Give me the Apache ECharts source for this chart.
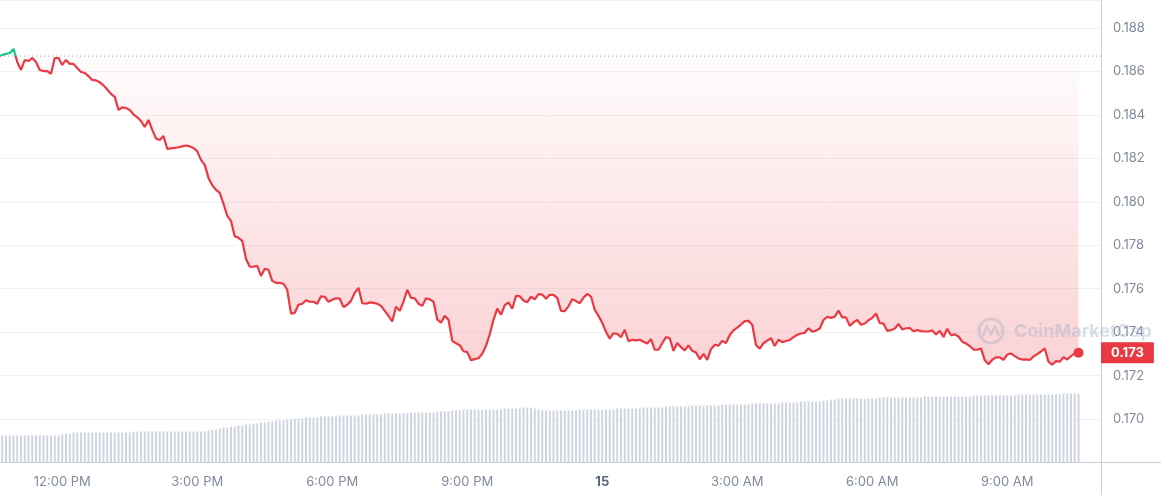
<!DOCTYPE html>
<html><head><meta charset="utf-8">
<style>html,body{margin:0;padding:0;background:#fff;}#chart{width:1161px;height:495px;}</style>
<script src="https://cdn.jsdelivr.net/npm/echarts@6/dist/echarts.min.js"></script>
</head><body><div id="chart"></div>
<script>
// time of first sample in minutes from midnight (10:35 AM), one sample every 5 minutes
const startMinute = 635;
const stepMinutes = 5;

const prices = [
0.18671,0.18676,0.18681,0.18685,0.18704,0.18644,0.18607,0.18653,0.18648,0.18662,
0.18644,0.18607,0.18602,0.18602,0.18589,0.18662,0.18662,0.18630,0.18653,0.18635,
0.18635,0.18616,0.18598,0.18593,0.18579,0.18561,0.18559,0.18550,0.18536,0.18517,
0.18497,0.18483,0.18423,0.18435,0.18432,0.18423,0.18402,0.18389,0.18372,0.18345,
0.18377,0.18331,0.18292,0.18285,0.18303,0.18244,0.18246,0.18248,0.18251,0.18255,
0.18259,0.18255,0.18248,0.18232,0.18193,0.18170,0.18110,0.18076,0.18055,0.18041,
0.17991,0.17935,0.17912,0.17841,0.17834,0.17820,0.17738,0.17701,0.17702,0.17705,
0.17659,0.17692,0.17687,0.17636,0.17627,0.17627,0.17623,0.17595,0.17485,0.17489,
0.17526,0.17531,0.17547,0.17540,0.17540,0.17531,0.17565,0.17563,0.17540,0.17549,
0.17556,0.17554,0.17515,0.17526,0.17544,0.17581,0.17604,0.17533,0.17531,0.17537,
0.17535,0.17531,0.17521,0.17498,0.17475,0.17449,0.17517,0.17498,0.17540,0.17595,
0.17558,0.17556,0.17531,0.17521,0.17556,0.17551,0.17540,0.17459,0.17443,0.17475,
0.17457,0.17360,0.17349,0.17340,0.17312,0.17308,0.17271,0.17276,0.17280,0.17301,
0.17337,0.17390,0.17457,0.17508,0.17480,0.17524,0.17537,0.17508,0.17567,0.17566,
0.17546,0.17538,0.17563,0.17551,0.17575,0.17573,0.17554,0.17572,0.17572,0.17558,
0.17498,0.17497,0.17519,0.17552,0.17543,0.17533,0.17559,0.17576,0.17564,0.17503,
0.17475,0.17443,0.17402,0.17370,0.17395,0.17392,0.17377,0.17411,0.17358,0.17365,
0.17362,0.17365,0.17356,0.17348,0.17368,0.17319,0.17319,0.17349,0.17377,0.17372,
0.17314,0.17350,0.17331,0.17316,0.17339,0.17314,0.17306,0.17275,0.17300,0.17272,
0.17322,0.17342,0.17338,0.17360,0.17350,0.17387,0.17408,0.17421,0.17435,0.17451,
0.17452,0.17434,0.17341,0.17324,0.17349,0.17361,0.17372,0.17336,0.17365,0.17354,
0.17359,0.17364,0.17377,0.17388,0.17394,0.17397,0.17418,0.17402,0.17407,0.17417,
0.17456,0.17471,0.17466,0.17471,0.17499,0.17468,0.17468,0.17429,0.17445,0.17456,
0.17434,0.17440,0.17455,0.17466,0.17486,0.17442,0.17439,0.17406,0.17409,0.17417,
0.17438,0.17413,0.17418,0.17419,0.17404,0.17410,0.17405,0.17403,0.17403,0.17408,
0.17389,0.17406,0.17378,0.17416,0.17386,0.17390,0.17380,0.17356,0.17348,0.17336,
0.17320,0.17319,0.17325,0.17271,0.17252,0.17273,0.17284,0.17284,0.17273,0.17297,
0.17302,0.17290,0.17279,0.17274,0.17275,0.17272,0.17288,0.17299,0.17311,0.17325,
0.17264,0.17250,0.17267,0.17264,0.17285,0.17274,0.17290,0.17302,0.17305
];

// volume (millions, relative scale)
const volumes = [
27,27,27,27,27,27,27,27,27,27,27,27,27,27,27,27,27,
28,29,29,30,
30,30,30,30,30,30,30,30,30,30,30,30,30,30,30,
31,31,31,31,31,31,31,31,31,31,31,31,31,31,31,31,31,31,31,31,
32,33,33,34,35,35,36,
36,37,37,38,38,39,39,40,40,41,41,42,42,42,
43,43,44,44,44,45,45,45,45,46,46,46,46,46,
47,47,47,47,47,47,48,48,48,48,48,48,49,49,49,49,49,49,
49,50,50,50,50,50,50,50,51,51,51,51,
52,52,52,53,53,53,53,53,53,53,53,53,53,53,54,54,54,54,54,
55,55,55,54,53,
52,52,52,52,52,52,52,52,52,52,53,53,53,53,53,53,
53,53,53,53,54,54,54,54,54,54,54,55,
55,55,55,55,55,56,56,56,56,56,56,57,57,57,
57,57,57,57,57,57,58,58,58,58,58,58,58,58,59,59,59,59,
59,59,59,59,60,60,60,60,60,61,61,61,61,61,61,62,
62,63,63,64,64,64,64,64,64,64,64,64,64,64,65,
65,65,65,65,65,65,65,65,65,65,65,66,66,66,66,
66,66,66,66,66,66,66,66,66,67,67,67,67,67,67,67,67,67,67,67,
67,68,68,68,68,68,68,68,68,68,68,68,68,69,69,69,69,69
];

const tickValues = [720, 900, 1080, 1260, 1440, 1620, 1800, 1980];
const tickLabels = ['12:00 PM', '3:00 PM', '6:00 PM', '9:00 PM', '15', '3:00 AM', '6:00 AM', '9:00 AM'];

const times = prices.map((_, i) => startMinute + i * stepMinutes);
const base = prices[0];
const lastIdx = prices.length - 1;
const last = prices[lastIdx];

const X_MIN = 637, X_MAX = 2105, Y_MIN = 0.168, Y_MAX = 0.18929;
const RED = '#ea3943', GREEN = '#16c784', AXIS = '#c9cdd5', LABEL = '#808a9d';

const chart = echarts.init(document.getElementById('chart'), null, {renderer: 'canvas'});
chart.setOption({
  animation: false,
  backgroundColor: '#ffffff',
  grid: {left: 0, right: 60, top: 0, bottom: 32.5, containLabel: false},
  xAxis: {
    type: 'value', min: X_MIN, max: X_MAX,
    axisLine: {show: true, lineStyle: {color: AXIS}},
    axisTick: {show: false},
    splitLine: {show: false},
    axisLabel: {
      customValues: tickValues,
      margin: 13, color: LABEL, fontSize: 13, fontFamily: 'Inter',
      formatter: v => { const lab = tickLabels[tickValues.indexOf(v)]; return v % 1440 === 0 ? '{b|' + lab + '}' : lab; },
      rich: {b: {fontWeight: 'bold', color: '#58667e', fontSize: 13, fontFamily: 'Inter'}}
    }
  },
  yAxis: [{
    type: 'value', position: 'right', min: Y_MIN, max: Y_MAX, interval: 0.002,
    axisLine: {show: true, lineStyle: {color: AXIS}},
    axisTick: {show: false},
    splitLine: {show: true, lineStyle: {color: '#eff2f5'}},
    axisLabel: {margin: 12, color: LABEL, fontSize: 13, fontFamily: 'Inter', showMinLabel: false, showMaxLabel: false,
      formatter: v => v.toFixed(3)}
  }, {
    type: 'value', min: 0, max: 462.5, show: false
  }, {
    // current-price tag on the price scale
    type: 'value', position: 'right', min: Y_MIN, max: Y_MAX,
    axisLine: {show: false}, axisTick: {show: false}, splitLine: {show: false},
    axisLabel: {
      customValues: [last], margin: 0, inside: false,
      formatter: v => v.toFixed(3),
      backgroundColor: RED, color: '#fff', fontWeight: 'bold', fontSize: 13, fontFamily: 'Inter',
      padding: [4, 10, 4, 10], borderRadius: 1
    }
  }],
  visualMap: {
    type: 'piecewise', show: false, seriesIndex: 0, dimension: 1,
    pieces: [{gt: base, lte: 1, color: GREEN}, {gte: 0, lte: base, color: RED}]
  },
  series: [{
    type: 'line', z: 3,
    data: times.map((t, i) => [t, prices[i]]),
    showSymbol: false,
    lineStyle: {width: 2.2},
    areaStyle: {
      origin: base,
      color: new echarts.graphic.LinearGradient(0, 0, 0, 1, [
        {offset: 0, color: 'rgba(234,57,67,0.01)'},
        {offset: 1, color: 'rgba(234,57,67,0.32)'}
      ])
    },
    markPoint: {
      silent: true, animation: false,
      symbol: 'circle', symbolSize: 10,
      itemStyle: {color: RED},
      label: {show: false},
      data: [{coord: [times[lastIdx], last]}]
    }
  }, {
    type: 'bar', yAxisIndex: 1, z: 1,
    data: times.map((t, i) => [t, volumes[i]]),
    barWidth: 2,
    itemStyle: {color: '#cfd5e0'}
  }, {
    // dotted opening-price reference line across the plot
    type: 'line', yAxisIndex: 0, z: 2, silent: true,
    data: [[X_MIN, base], [X_MAX, base]],
    showSymbol: false, symbol: 'none',
    lineStyle: {type: [1, 3], color: '#9aa2b4', width: 1}
  }],
  graphic: [
    {type: 'line', z: 10, shape: {x1: 1101.5, y1: 462, x2: 1101.5, y2: 495}, style: {stroke: AXIS, lineWidth: 1}},
    {type: 'line', z: 10, shape: {x1: 1101, y1: 462.5, x2: 1161, y2: 462.5}, style: {stroke: AXIS, lineWidth: 1}},
    {type: 'circle', z: 20, shape: {cx: 991, cy: 331, r: 12}, style: {fill: 'none', stroke: 'rgba(165,176,198,0.42)', lineWidth: 3}},
    {type: 'polyline', z: 20, shape: {points: [[983, 336], [987, 326], [991, 334], [995, 326], [999, 336]]},
      style: {fill: 'none', stroke: 'rgba(165,176,198,0.42)', lineWidth: 2.5}},
    {type: 'text', z: 20, style: {x: 1014, y: 332, text: 'CoinMarketCap', fill: 'rgba(165,176,198,0.42)',
      font: 'bold 18px Inter', verticalAlign: 'middle'}}
  ]
});
</script>
</body></html>
